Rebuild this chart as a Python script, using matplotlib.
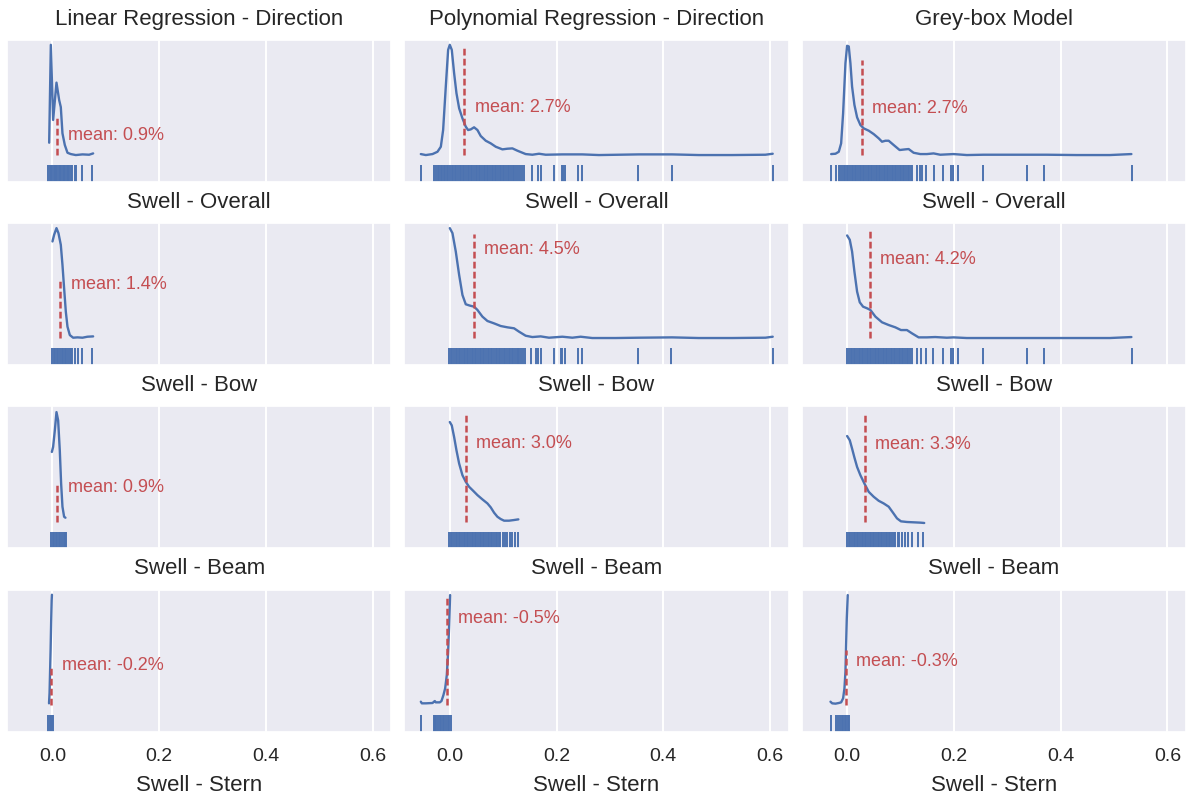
import matplotlib
matplotlib.use("Agg")
import matplotlib.pyplot as plt
import seaborn as sns

col_titles = ["Linear Regression - Direction", "Polynomial Regression - Direction", "Grey-box Model"]
row_titles = ["Swell - Overall", "Swell - Bow", "Swell - Beam"]
x_label = "Swell - Stern"

# density curves (height relative to the tallest peak)
lin_dir_x = [-0.0062, -0.0031, 0.0012, 0.0075, 0.0125, 0.0156, 0.0187, 0.0231, 0.0281, 0.0343, 0.0437, 0.0562, 0.0687, 0.0762]
lin_dir_y = [0.104, 1.0, 0.312, 0.654, 0.495, 0.43, 0.19, 0.083, 0.012, 0.0, -0.009, -0.003, -0.006, 0.006]
poly_dir_x = [-0.0543, -0.0449, -0.0324, -0.0231, -0.0168, -0.0125, -0.0075, -0.0031, 0.0, 0.0037, 0.0081, 0.0125, 0.0175,
              0.0237, 0.0299, 0.0343, 0.0393, 0.0455, 0.0518, 0.058, 0.0674, 0.0767, 0.0861, 0.0986, 0.1079, 0.1173, 0.1266,
              0.1422, 0.1547, 0.1672, 0.1797, 0.2109, 0.2483, 0.2795, 0.3543, 0.4167, 0.4666, 0.529, 0.5914, 0.6051]
poly_dir_y = [0.0, -0.009, 0.0, 0.021, 0.067, 0.22, 0.618, 0.954, 1.0, 0.954, 0.74, 0.557, 0.419, 0.327, 0.251, 0.22, 0.226,
              0.245, 0.22, 0.165, 0.122, 0.098, 0.067, 0.043, 0.049, 0.052, 0.031, 0.0, -0.006, 0.003, -0.006, -0.003, -0.003,
              -0.009, -0.003, -0.003, -0.009, -0.009, -0.006, 0.003]
grey_dir_x = [-0.0299, -0.0218, -0.0156, -0.0112, -0.0075, -0.0031, 0.0, 0.0031, 0.0062, 0.0093, 0.0137, 0.0187, 0.0249,
              0.0312, 0.0405, 0.0498, 0.0592, 0.0654, 0.0717, 0.0779, 0.0872, 0.0984, 0.109, 0.1153, 0.1246, 0.1371, 0.1495,
              0.162, 0.1745, 0.1994, 0.2243, 0.2555, 0.3364, 0.3738, 0.4299, 0.4922, 0.5327]
grey_dir_y = [0.0, 0.003, 0.021, 0.098, 0.373, 0.832, 0.991, 0.985, 0.832, 0.618, 0.45, 0.336, 0.266, 0.235, 0.214, 0.183,
              0.144, 0.113, 0.122, 0.122, 0.083, 0.037, 0.043, 0.046, 0.012, 0.0, 0.0, 0.006, -0.006, 0.0, -0.009, -0.006,
              -0.006, -0.006, -0.009, -0.009, 0.0]

lin_ovr_x = [0.0, 0.0031, 0.0075, 0.0112, 0.0156, 0.0187, 0.0218, 0.025, 0.0281, 0.0325, 0.0387, 0.0468, 0.0562, 0.0655, 0.0762]
lin_ovr_y = [0.878, 0.939, 1.0, 0.954, 0.847, 0.664, 0.45, 0.235, 0.098, 0.021, -0.003, 0.0, -0.003, 0.006, 0.009]
poly_ovr_x = [0.0, 0.005, 0.0112, 0.0175, 0.0237, 0.0299, 0.0374, 0.0455, 0.0518, 0.0611, 0.0705, 0.083, 0.0954, 0.1079,
              0.1204, 0.1298, 0.1422, 0.1547, 0.1703, 0.1859, 0.2109, 0.2296, 0.2452, 0.267, 0.3107, 0.3543, 0.4167, 0.4666,
              0.529, 0.5914, 0.6051]
poly_ovr_y = [1.0, 0.954, 0.786, 0.572, 0.388, 0.303, 0.291, 0.281, 0.251, 0.19, 0.15, 0.128, 0.104, 0.092, 0.083, 0.052,
              0.015, 0.003, 0.009, -0.003, 0.006, -0.003, 0.006, -0.006, -0.006, -0.003, 0.0, -0.006, -0.006, -0.003, 0.006]
grey_ovr_x = [0.0, 0.005, 0.0093, 0.0137, 0.0187, 0.0237, 0.0299, 0.0374, 0.0436, 0.053, 0.0654, 0.0779, 0.0903, 0.1009,
              0.1121, 0.1215, 0.134, 0.1495, 0.1651, 0.1869, 0.1994, 0.2243, 0.2555, 0.3364, 0.3738, 0.4299, 0.4922, 0.5327]
grey_ovr_y = [0.933, 0.893, 0.786, 0.602, 0.419, 0.321, 0.281, 0.266, 0.251, 0.19, 0.138, 0.113, 0.092, 0.067, 0.067, 0.037,
              0.0, 0.0, 0.003, -0.003, 0.0, -0.006, -0.006, -0.006, -0.006, -0.006, -0.006, 0.003]

lin_bow_x = [-0.0012, 0.0012, 0.0044, 0.0075, 0.0106, 0.0137, 0.0162, 0.0187, 0.0218, 0.0243]
lin_bow_y = [0.629, 0.675, 0.827, 0.994, 0.918, 0.644, 0.34, 0.128, 0.036, 0.027]
poly_bow_x = [0.0, 0.0037, 0.0081, 0.0125, 0.0175, 0.0237, 0.0299, 0.0362, 0.0437, 0.0518, 0.0611, 0.0705, 0.0767, 0.083,
              0.0892, 0.0954, 0.1017, 0.111, 0.1204, 0.1285]
poly_bow_y = [0.903, 0.872, 0.766, 0.644, 0.523, 0.416, 0.356, 0.31, 0.274, 0.234, 0.195, 0.158, 0.122, 0.073, 0.036, 0.015,
              0.0, 0.0, 0.006, 0.012]
grey_bow_x = [0.0, 0.005, 0.0093, 0.0137, 0.0187, 0.0249, 0.0324, 0.0405, 0.0498, 0.0592, 0.0685, 0.0779, 0.086, 0.0935,
              0.1009, 0.1121, 0.1246, 0.1371, 0.1445]
grey_bow_y = [0.775, 0.736, 0.66, 0.578, 0.492, 0.416, 0.34, 0.264, 0.219, 0.182, 0.158, 0.128, 0.073, 0.021, -0.006,
              -0.012, -0.015, -0.018, -0.021]

lin_beam_x = [-0.0065, -0.0055, -0.0045, -0.0035, -0.0025, -0.0015, -0.001]
lin_beam_y = [0.006, 0.1, 0.3, 0.5, 0.75, 0.95, 1.0]
poly_beam_x = [-0.0543, -0.0524, -0.0449, -0.0324, -0.0281, -0.0262, -0.0187, -0.0156, -0.0119, -0.0087, -0.0056, -0.0031,
               -0.0012, 0.0006]
poly_beam_y = [0.021, 0.006, 0.006, 0.009, 0.027, 0.015, 0.015, 0.027, 0.082, 0.143, 0.265, 0.479, 0.723, 0.997]
grey_beam_x = [-0.0312, -0.028, -0.0218, -0.0156, -0.0112, -0.0075, -0.005, -0.0031, -0.0019, -0.0006, 0.0012]
grey_beam_y = [0.021, 0.006, 0.003, 0.009, 0.015, 0.052, 0.143, 0.296, 0.54, 0.784, 0.997]

# rug samples
lin_dir_rug = [-0.0075, -0.005, -0.0025, 0.0, 0.002, 0.0045, 0.007, 0.009, 0.0115, 0.014, 0.0165, 0.019, 0.0215, 0.024,
               0.0265, 0.029, 0.0315, 0.034, 0.0375, 0.042, 0.045, 0.055, 0.074]
poly_dir_rug = [-0.054, -0.029, -0.026, -0.023, -0.020, -0.017, -0.0145, -0.0115, -0.0085, -0.0055, -0.0025, 0.0005, 0.0035,
                0.0065, 0.0095, 0.0125, 0.0155, 0.0185, 0.0215, 0.0245, 0.0275, 0.0305, 0.0335, 0.0365, 0.0395, 0.0425,
                0.0455, 0.0485, 0.0515, 0.0545, 0.0575, 0.0605, 0.0635, 0.0665, 0.0695, 0.0725, 0.0755, 0.0785, 0.0815,
                0.0845, 0.0875, 0.0905, 0.0935, 0.0965, 0.0995, 0.1025, 0.1055, 0.1085, 0.1115, 0.1145, 0.1175, 0.1205,
                0.1248, 0.1285, 0.131, 0.135, 0.139, 0.1535, 0.166, 0.170, 0.195, 0.2096, 0.212, 0.216, 0.241, 0.248,
                0.352, 0.4155, 0.605]
grey_dir_rug = [-0.030, -0.020, -0.0155, -0.0125, -0.0095, -0.0065, -0.0035, -0.0005, 0.0025, 0.0055, 0.0085, 0.0115,
                0.0145, 0.0175, 0.0205, 0.0235, 0.0265, 0.0295, 0.0325, 0.0355, 0.0385, 0.0415, 0.0445, 0.0475, 0.0505,
                0.0535, 0.0565, 0.0595, 0.0625, 0.0655, 0.0685, 0.0715, 0.0745, 0.0775, 0.0805, 0.0835, 0.0865, 0.0895,
                0.0925, 0.0955, 0.0985, 0.1015, 0.1045, 0.1075, 0.1105, 0.1135, 0.1165, 0.1195, 0.1215, 0.131, 0.136,
                0.140, 0.148, 0.162, 0.179, 0.194, 0.198, 0.207, 0.254, 0.338, 0.369, 0.533]

lin_ovr_rug = [0.0, 0.0025, 0.005, 0.008, 0.011, 0.014, 0.017, 0.020, 0.023, 0.026, 0.029, 0.032, 0.035, 0.0375, 0.042,
               0.047, 0.055, 0.074]
poly_ovr_rug = [-0.001, 0.002, 0.005, 0.008, 0.011, 0.014, 0.017, 0.020, 0.023, 0.026, 0.029, 0.032, 0.035, 0.038, 0.041,
                0.044, 0.047, 0.050, 0.053, 0.056, 0.059, 0.062, 0.065, 0.068, 0.071, 0.074, 0.077, 0.080, 0.083, 0.086,
                0.089, 0.092, 0.095, 0.098, 0.101, 0.104, 0.107, 0.110, 0.113, 0.116, 0.119, 0.122, 0.125, 0.127, 0.130,
                0.133, 0.137, 0.141, 0.152, 0.162, 0.166, 0.171, 0.195, 0.208, 0.211, 0.215, 0.241, 0.248, 0.352, 0.415,
                0.605]
grey_ovr_rug = [0.0, 0.0035, 0.0065, 0.0095, 0.0125, 0.0155, 0.0185, 0.0215, 0.0245, 0.0275, 0.0305, 0.0335, 0.0365,
                0.0395, 0.0425, 0.0455, 0.0485, 0.0515, 0.0545, 0.0575, 0.0605, 0.0635, 0.0665, 0.0695, 0.0725, 0.0755,
                0.0785, 0.0815, 0.0845, 0.0875, 0.0905, 0.0935, 0.0965, 0.0995, 0.1025, 0.1055, 0.1085, 0.1115, 0.1145,
                0.1175, 0.1215, 0.131, 0.138, 0.148, 0.161, 0.179, 0.194, 0.198, 0.207, 0.254, 0.338, 0.369, 0.533]

lin_bow_rug = [-0.002, 0.0005, 0.003, 0.006, 0.009, 0.012, 0.015, 0.018, 0.021, 0.023, 0.025]
poly_bow_rug = [-0.001, 0.002, 0.005, 0.008, 0.011, 0.014, 0.017, 0.020, 0.023, 0.026, 0.029, 0.032, 0.035, 0.038, 0.041,
                0.044, 0.047, 0.050, 0.053, 0.056, 0.059, 0.062, 0.065, 0.068, 0.071, 0.074, 0.077, 0.080, 0.083, 0.086,
                0.089, 0.092, 0.095, 0.099, 0.104, 0.108, 0.112, 0.117, 0.122, 0.127]
grey_bow_rug = [0.0, 0.003, 0.006, 0.009, 0.012, 0.015, 0.018, 0.021, 0.024, 0.027, 0.030, 0.033, 0.036, 0.039, 0.042,
                0.045, 0.048, 0.051, 0.054, 0.057, 0.060, 0.063, 0.066, 0.069, 0.072, 0.075, 0.078, 0.081, 0.084, 0.087,
                0.090, 0.095, 0.098, 0.103, 0.109, 0.115, 0.121, 0.132, 0.143]

lin_beam_rug = [-0.008, -0.0055, -0.003, -0.0005, 0.0012]
poly_beam_rug = [-0.054, -0.029, -0.027, -0.025, -0.022, -0.019, -0.016, -0.013, -0.010, -0.007, -0.004, -0.001, 0.002]
grey_beam_rug = [-0.030, -0.020, -0.017, -0.0137, -0.0105, -0.0075, -0.0045, -0.0015, 0.0015, 0.003]

means = [[0.009, 0.027, 0.027],
         [0.014, 0.045, 0.042],
         [0.009, 0.030, 0.033],
         [-0.002, -0.005, -0.003]]

curves = [[(lin_dir_x, lin_dir_y, lin_dir_rug), (poly_dir_x, poly_dir_y, poly_dir_rug), (grey_dir_x, grey_dir_y, grey_dir_rug)],
          [(lin_ovr_x, lin_ovr_y, lin_ovr_rug), (poly_ovr_x, poly_ovr_y, poly_ovr_rug), (grey_ovr_x, grey_ovr_y, grey_ovr_rug)],
          [(lin_bow_x, lin_bow_y, lin_bow_rug), (poly_bow_x, poly_bow_y, poly_bow_rug), (grey_bow_x, grey_bow_y, grey_bow_rug)],
          [(lin_beam_x, lin_beam_y, lin_beam_rug), (poly_beam_x, poly_beam_y, poly_beam_rug), (grey_beam_x, grey_beam_y, grey_beam_rug)]]

# where the mean line ends and where its label sits (curve height units)
line_top = [[0.336, 0.97, 0.862], [0.541, 0.945, 1.0], [0.356, 0.994, 0.985], [0.357, 0.997, 0.494]]
label_y = [[0.174, 0.428, 0.419], [0.48, 0.807, 0.716], [0.304, 0.705, 0.699], [0.348, 0.784, 0.393]]

sns.set_theme(style="darkgrid")
plt.rcParams['font.family'] = ['Liberation Sans', 'DejaVu Sans']
blue = '#4C72B0'
red = '#C44E52'

fig, axes = plt.subplots(4, 3, figsize=(11.86, 7.97), dpi=100, sharex=True)
fig.subplots_adjust(left=0.006, right=1.0, top=0.95, bottom=0.082, hspace=0.292, wspace=0.034)

for r in range(4):
    for c in range(3):
        ax = axes[r, c]
        xs, ys, rug = curves[r][c]
        ax.plot(xs, ys, color=blue, lw=1.7)
        ax.vlines(rug, 0, 0.118, color=blue, lw=1.4, transform=ax.get_xaxis_transform())
        m = means[r][c]
        ax.plot([m, m], [-0.01, line_top[r][c]], color=red, lw=1.8, ls=(0, (2.7, 1.3)))
        ax.text(m + 0.02, label_y[r][c], f"mean: {m * 100:.1f}%", color=red, fontsize=13, va='center', ha='left')
        ax.set_ylim(-0.2532, 1.0455)
        ax.set_yticks([])
        ax.set_xlim(-0.085, 0.635)
        ax.set_xticks([0.0, 0.2, 0.4, 0.6])
        ax.grid(True, color='white', lw=1.4)
        ax.tick_params(axis='x', labelsize=14, pad=6)
        if r == 0:
            ax.set_title(col_titles[c], fontsize=16, pad=11)
        else:
            ax.set_title(row_titles[r - 1], fontsize=16, pad=11)
        if r == 3:
            ax.set_xlabel(x_label, fontsize=16, labelpad=7)

fig.savefig('out.png', dpi=100)
